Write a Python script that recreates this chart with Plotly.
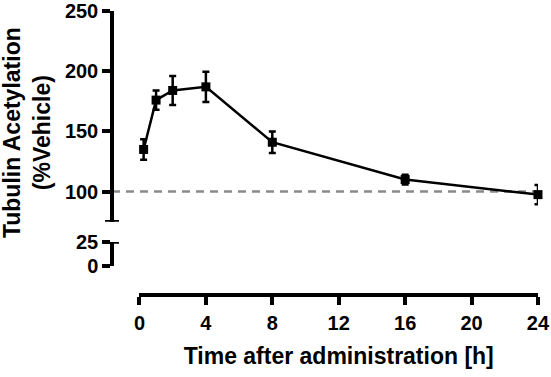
import plotly.graph_objects as go

time_h = [0.25, 1, 2, 4, 8, 16, 24]
acetylation = [135, 176, 184, 187, 141, 110, 97.5]
sem = [8.5, 8, 12, 12.5, 9, 4, 8]
baseline = 100

upper_ticks = [100, 150, 200, 250]
lower_ticks = [0, 25]
x_ticks = [0, 4, 8, 12, 16, 20, 24]

W, H = 551, 377
L, R, T, B = 112, 12.5, 11, 82
pw = W - L - R
ph = H - T - B

def px_x(px):
    return (px - L) / pw

def px_y(py):
    return (H - B - py) / ph

font_family = "Liberation Sans, Arial, Helvetica, sans-serif"
AX = 3.5

fig = go.Figure()
fig.add_trace(go.Scatter(
    x=time_h, y=acetylation, mode="lines+markers",
    line=dict(color="black", width=2.5),
    marker=dict(symbol="square", size=9, color="black"),
    error_y=dict(type="data", array=sem, visible=True, color="black", thickness=2.5, width=3.5),
    cliponaxis=False, showlegend=False, xaxis="x", yaxis="y",
))
# invisible trace to activate lower axis
fig.add_trace(go.Scatter(x=[None], y=[None], xaxis="x", yaxis="y2", showlegend=False))

fig.add_shape(type="line", xref="paper", yref="y", x0=0, x1=1, y0=baseline, y1=baseline,
              line=dict(color="#8a8a8a", width=2.5, dash="8px,6px"), layer="below")
# axis break caps
fig.add_shape(type="line", xref="paper", yref="y", x0=px_x(105), x1=px_x(119), y0=75, y1=75,
              line=dict(color="black", width=AX))
fig.add_shape(type="line", xref="paper", yref="y2", x0=px_x(110), x1=px_x(119), y0=25, y1=25,
              line=dict(color="black", width=AX))

tickfont = dict(family=font_family, size=20, color="black", weight="bold")
common = dict(ticks="outside", ticklen=8, tickwidth=AX, tickcolor="black",
              showline=True, linewidth=AX, linecolor="black", showgrid=False, zeroline=False,
              tickfont=tickfont, automargin=False, ticklabeloverflow="allow")

fig.update_layout(
    width=W, height=H,
    margin=dict(l=L, r=R, t=T, b=B, autoexpand=False),
    paper_bgcolor="white", plot_bgcolor="white",
    font=dict(family=font_family, color="black"),
    xaxis=dict(
        domain=[px_x(139.5), 1], range=[0, 24], anchor="free", position=0,
        tickvals=x_ticks, ticklabelstandoff=1,
        title=dict(text="Time after administration [h]", standoff=14,
                   font=dict(family=font_family, size=23, color="black", weight="bold")),
        **common,
    ),
    yaxis=dict(
        domain=[px_y(221.7), 1], range=[75, 250], anchor="free", position=0,
        tickvals=upper_ticks, **common,
    ),
    yaxis2=dict(
        domain=[px_y(266), px_y(242)], range=[0, 25], anchor="free", position=0,
        tickvals=lower_ticks, **common,
    ),
    annotations=[dict(
        text="Tubulin Acetylation<br>(%Vehicle)", textangle=-90,
        xref="paper", yref="paper", x=px_x(27), y=px_y(133),
        xanchor="center", yanchor="middle", showarrow=False,
        font=dict(family=font_family, size=23, color="black", weight="bold"),
    )],
)

fig.write_html("out.html", config={"displayModeBar": False},
               post_script="document.body.style.margin='0';document.body.style.overflow='hidden';")
